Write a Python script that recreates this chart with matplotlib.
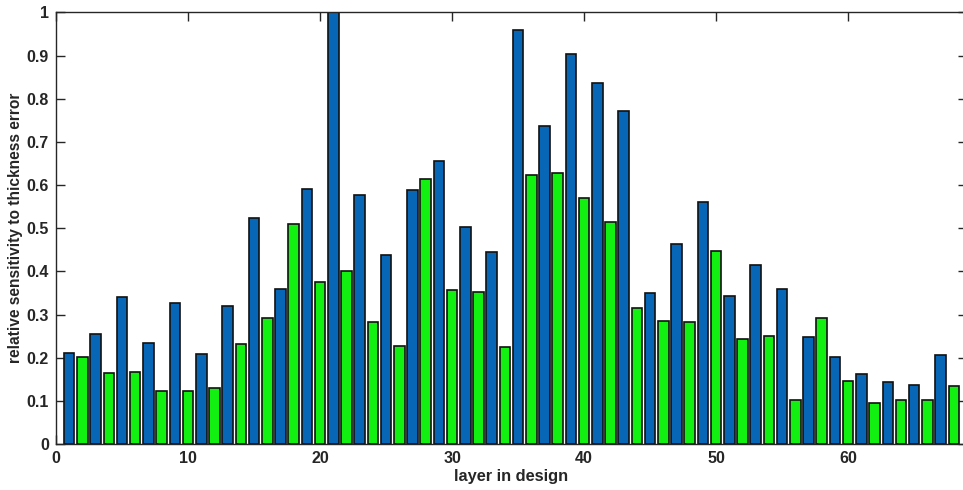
import numpy as np
import matplotlib
matplotlib.use("Agg")
import matplotlib.pyplot as plt

# layers 1..68, odd layers in blue, even layers in green
blue_layers = list(range(1, 69, 2))
blue_values = [
    0.211, 0.256, 0.340, 0.233, 0.326, 0.208, 0.320, 0.523, 0.360, 0.592,
    1.000, 0.576, 0.439, 0.589, 0.657, 0.504, 0.444, 0.959, 0.737, 0.904,
    0.837, 0.772, 0.351, 0.464, 0.560, 0.342, 0.414, 0.359, 0.249, 0.201,
    0.163, 0.143, 0.137, 0.207,
]
green_layers = list(range(2, 69, 2))
green_values = [
    0.202, 0.164, 0.167, 0.123, 0.123, 0.129, 0.231, 0.292, 0.511, 0.376,
    0.400, 0.283, 0.227, 0.613, 0.356, 0.353, 0.225, 0.623, 0.629, 0.570,
    0.515, 0.315, 0.286, 0.282, 0.448, 0.243, 0.250, 0.103, 0.291, 0.147,
    0.095, 0.101, 0.101, 0.134,
]

x_ticks = [0, 10, 20, 30, 40, 50, 60]
y_ticks = [0, 0.1, 0.2, 0.3, 0.4, 0.5, 0.6, 0.7, 0.8, 0.9, 1.0]
y_tick_labels = ["0", "0.1", "0.2", "0.3", "0.4", "0.5", "0.6", "0.7", "0.8", "0.9", "1"]

text_color = "#262626"
plt.rcParams["font.family"] = ["Liberation Sans", "DejaVu Sans"]
plt.rcParams["font.weight"] = "bold"

W, H = 963, 490
fig = plt.figure(figsize=(W / 100, H / 100), dpi=100)
ax = fig.add_axes([56 / W, 46 / H, 911 / W, 431.5 / H])

ax.bar(blue_layers, blue_values, width=0.8, color="#0866b6",
       edgecolor="#111111", linewidth=1.2, zorder=2)
ax.bar(green_layers, green_values, width=0.8, color="#12f012",
       edgecolor="#111111", linewidth=1.2, zorder=2)

ax.set_xlim(0, 69)
ax.set_ylim(0, 1)
ax.set_xticks(x_ticks)
ax.set_yticks(y_ticks)
ax.set_yticklabels(y_tick_labels)

ax.tick_params(direction="in", length=6.5, width=1.0, colors=text_color,
               labelsize=11.5, top=True, right=True, pad=5)
for lab in ax.get_xticklabels() + ax.get_yticklabels():
    lab.set_fontweight("bold")
for sp in ax.spines.values():
    sp.set_color(text_color)
    sp.set_linewidth(1.0)

ax.set_xlabel("layer in design", fontsize=11.8, fontweight="bold",
              color=text_color, labelpad=2)
ax.set_ylabel("relative sensitivity to thickness error", fontsize=11.2,
              fontweight="bold", color=text_color, labelpad=3)

fig.savefig("out.png", dpi=100)
